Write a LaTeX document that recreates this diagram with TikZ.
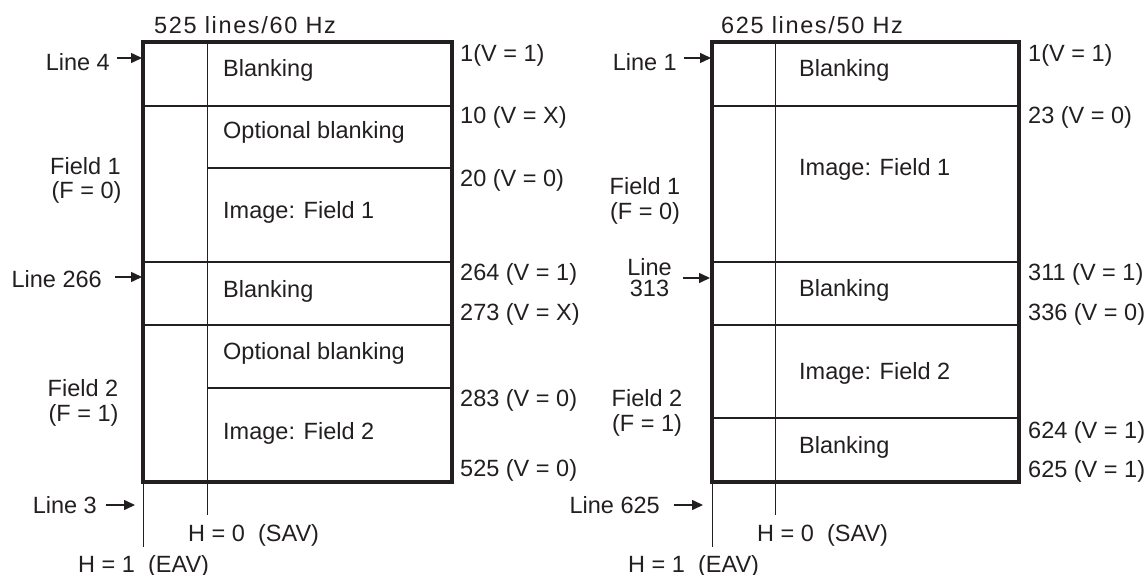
\documentclass[tikz,border=0pt]{standalone}
\usepackage{fontspec}
\setmainfont{Liberation Sans}
\newfontfamily\titlefont{Liberation Sans}[LetterSpace=7]
\usetikzlibrary{arrows.meta}
\definecolor{ink}{RGB}{35,31,32}
\begin{document}
\begin{tikzpicture}[x=1pt,y=-1pt,
  txt/.style={inner sep=0pt, text=ink, font=\fontsize{23.5}{25}\selectfont},
  lw/.style={txt, anchor=base west},
  le/.style={txt, anchor=base east},
  lc/.style={txt, anchor=base},
  thickbox/.style={draw=ink, line width=3.2pt},
  thin/.style={draw=ink, line width=1.2pt},
  thinv/.style={draw=ink, line width=1pt},
  arr/.style={draw=ink, line width=1.5pt, -{Triangle[length=11pt,width=10pt]}}]
\useasboundingbox (0,0) rectangle (1145,575);

% ---------------- 525 lines / 60 Hz ----------------
\node[lw] (tA) at (154,33.5) {\titlefont 525 lines/60 Hz};
\draw[thinv] (207,42) -- (207,515);
\draw[thinv] (143,482) -- (143,547);
\draw[thin] (143,106) -- (452,106);
\draw[thin] (207,168) -- (452,168);
\draw[thin] (143,262) -- (452,262);
\draw[thin] (143,325) -- (452,325);
\draw[thin] (207,388) -- (452,388);
\draw[thickbox] (143,42) rectangle (452,482);

\node[lw] (bA1) at (223,76.5) {Blanking};
\node[lw] (oA1) at (223,138.5) {Optional blanking};
\node[lw] (iA1) at (223,218.5) {Image: Field 1};
\node[lw] (bA2) at (223,297.5) {Blanking};
\node[lw] (oA2) at (223,359.5) {Optional blanking};
\node[lw] (iA2) at (223,439.5) {Image: Field 2};

\node[lw] (rA1) at (460,61.5) {1(V = 1)};
\node[lw] (rA2) at (460,123.5) {10 (V = X)};
\node[lw] (rA3) at (460,186.5) {20 (V = 0)};
\node[lw] (rA4) at (460,280.5) {264 (V = 1)};
\node[lw] (rA5) at (460,320.5) {273 (V = X)};
\node[lw] (rA6) at (460,406.5) {283 (V = 0)};
\node[lw] (rA7) at (460,476.5) {525 (V = 0)};

\node[le] (lA4) at (110,70.5) {Line 4};
\node[le] (lA266) at (102,287.5) {Line 266};
\node[le] (lA3) at (97,513.5) {Line 3};
\node[lc] (fA1) at (85.5,174.5) {Field 1};
\node[lc] (fA1b) at (86.5,198.5) {(F = 0)};
\node[lc] (fA2) at (83,396.5) {Field 2};
\node[lc] (fA2b) at (83.5,421.5) {(F = 1)};
\node[lw] (hA0) at (188,541.5) {H = 0\ \ (SAV)};
\node[lw] (hA1) at (78,572) {H = 1\ \ (EAV)};

\coordinate (aA4s) at (117,58);   \coordinate (aA4e) at (142,58);
\coordinate (aA266s) at (115,277); \coordinate (aA266e) at (142,277);
\coordinate (aA3s) at (106,505);  \coordinate (aA3e) at (135,505);
\draw[arr] (aA4s) -- (aA4e);
\draw[arr] (aA266s) -- (aA266e);
\draw[arr] (aA3s) -- (aA3e);

% ---------------- 625 lines / 50 Hz ----------------
\node[lw] (tB) at (721,33.5) {\titlefont 625 lines/50 Hz};
\draw[thinv] (775,42) -- (775,515);
\draw[thinv] (712,482) -- (712,547);
\draw[thin] (712,106) -- (1019,106);
\draw[thin] (712,262) -- (1019,262);
\draw[thin] (712,325) -- (1019,325);
\draw[thin] (712,418) -- (1019,418);
\draw[thickbox] (712,42) rectangle (1019,482);

\node[lw] (bB1) at (799,76.5) {Blanking};
\node[lw] (iB1) at (799,175.5) {Image: Field 1};
\node[lw] (bB2) at (799,296.5) {Blanking};
\node[lw] (iB2) at (799,379.5) {Image: Field 2};
\node[lw] (bB3) at (799,453.5) {Blanking};

\node[lw] (rB1) at (1028,61.5) {1(V = 1)};
\node[lw] (rB2) at (1028,123.5) {23 (V = 0)};
\node[lw] (rB3) at (1028,280.5) {311 (V = 1)};
\node[lw] (rB4) at (1028,320.5) {336 (V = 0)};
\node[lw] (rB5) at (1028,438.5) {624 (V = 1)};
\node[lw] (rB6) at (1028,477.5) {625 (V = 1)};

\node[le] (lB1) at (677,70.5) {Line 1};
\node[lc, align=center, font=\fontsize{23.5}{21}\selectfont] (lB313) at (649.5,296.5) {Line\\313};
\node[le] (lB625) at (660,513.5) {Line 625};
\node[lc] (fB1) at (645,194.5) {Field 1};
\node[lc] (fB1b) at (645,219.5) {(F = 0)};
\node[lc] (fB2) at (647,406.5) {Field 2};
\node[lc] (fB2b) at (647,431.5) {(F = 1)};
\node[lw] (hB0) at (757,541.5) {H = 0\ \ (SAV)};
\node[lw] (hB1) at (628,572) {H = 1\ \ (EAV)};

\coordinate (aB1s) at (684,58);   \coordinate (aB1e) at (711,58);
\coordinate (aB313s) at (683,278); \coordinate (aB313e) at (710,278);
\coordinate (aB625s) at (674,505); \coordinate (aB625e) at (703,505);
\draw[arr] (aB1s) -- (aB1e);
\draw[arr] (aB313s) -- (aB313e);
\draw[arr] (aB625s) -- (aB625e);
\end{tikzpicture}
\end{document}
